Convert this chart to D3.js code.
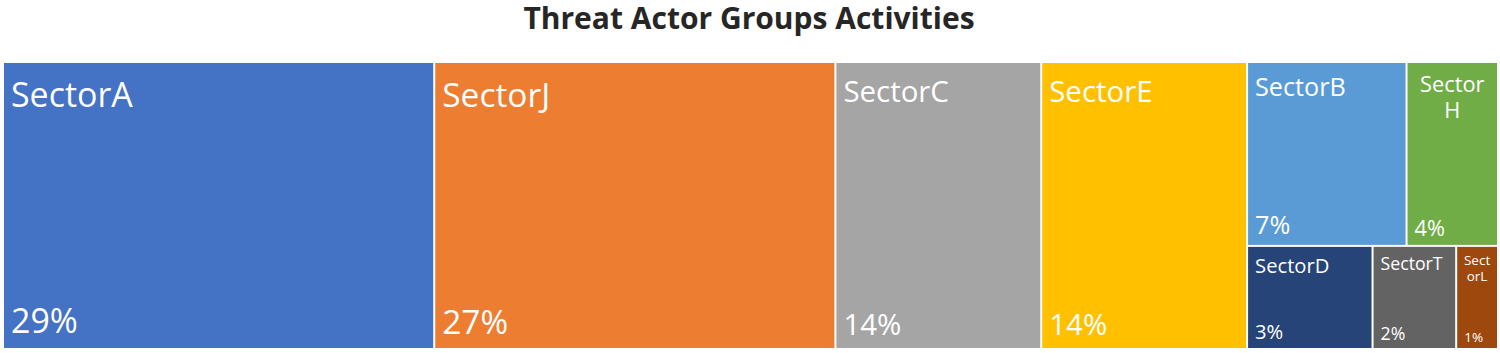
<!DOCTYPE html>
<html>
<head>
<meta charset="utf-8">
<script src="https://cdn.jsdelivr.net/npm/d3@7"></script>
<style>
    body { margin: 0; background: #fff; }
    svg { display: block; font-family: "Open Sans", "Noto Sans", sans-serif; }
</style>
</head>
<body>
<div id="chart"></div>
<script>
var sectors = ["SectorA", "SectorJ", "SectorC", "SectorE", "SectorB", "SectorH", "SectorD", "SectorT", "SectorL"];
var shares = [28.7, 26.7, 13.7, 13.7, 6.8, 3.9, 3.0, 2.0, 1.0];
var colors = ["#4472C4", "#ED7D31", "#A5A5A5", "#FFC000", "#5B9BD5", "#70AD47", "#264478", "#636363", "#9E480E"];

var width = 1500;
var height = 353;
var left = 4;
var top_ = 63;

var svg = d3.select("#chart").append("svg")
    .attr("width", width)
    .attr("height", height);

svg.append("text")
    .attr("x", 749)
    .attr("y", 29)
    .attr("text-anchor", "middle")
    .attr("font-size", 30)
    .attr("font-weight", "bold")
    .attr("fill", "#262626")
    .text("Threat Actor Groups Activities");

var total = d3.sum(shares);
var root = d3.hierarchy({
    children: sectors.map(function (name, i) {
        return { name: name, value: shares[i], color: colors[i] };
    })
}).sum(function (d) { return d.value || 0; })
  .sort(function (a, b) { return b.value - a.value; });

d3.treemap()
    .tile(d3.treemapSquarify.ratio(1))
    .size([1493, 285])
    .paddingInner(2)
    .round(false)(root);

// bigger tiles get bigger labels
var fontSize = d3.scaleLog().domain([1, 29]).range([13.5, 34]);

var pad = 7;
var leaves = root.leaves();

var map = svg.append("g")
    .attr("transform", "translate(" + left + "," + top_ + ")");

var cell = map.selectAll("g.cell")
    .data(leaves)
    .enter().append("g")
    .attr("class", "cell");

cell.append("rect")
    .attr("x", function (d) { return d.x0; })
    .attr("y", function (d) { return d.y0; })
    .attr("width", function (d) { return d.x1 - d.x0; })
    .attr("height", function (d) { return d.y1 - d.y0; })
    .attr("fill", function (d) { return d.data.color; });

cell.each(function (d) {
    var g = d3.select(this);
    var fs = fontSize(d.value);
    var w = d.x1 - d.x0;
    var maxW = w - 13;
    var label = g.append("text")
        .attr("font-size", fs)
        .attr("fill", "#fff");

    var first = label.append("tspan")
        .attr("x", d.x0 + pad)
        .attr("y", d.y0 + fs * 1.31)
        .text(d.data.name);

    // too wide: break by characters and center the lines
    if (first.node().getComputedTextLength() > maxW) {
        first.remove();
        var name = d.data.name;
        var lines = [];
        var cur = "";
        var probe = label.append("tspan");
        for (var k = 0; k < name.length; k++) {
            probe.text(cur + name[k]);
            if (cur && probe.node().getComputedTextLength() > maxW) {
                lines.push(cur);
                cur = name[k];
            } else {
                cur = cur + name[k];
            }
        }
        lines.push(cur);
        probe.remove();
        lines.forEach(function (line, i) {
            label.append("tspan")
                .attr("x", (d.x0 + d.x1) / 2)
                .attr("y", d.y0 + fs * 1.31 + i * fs * 1.22)
                .attr("text-anchor", "middle")
                .text(line);
        });
    }

    g.append("text")
        .attr("x", d.x0 + pad)
        .attr("y", d.y1 - fs * 0.43)
        .attr("font-size", fs)
        .attr("fill", "#fff")
        .text(Math.round(d.value / total * 100) + "%");
});
</script>
</body>
</html>
